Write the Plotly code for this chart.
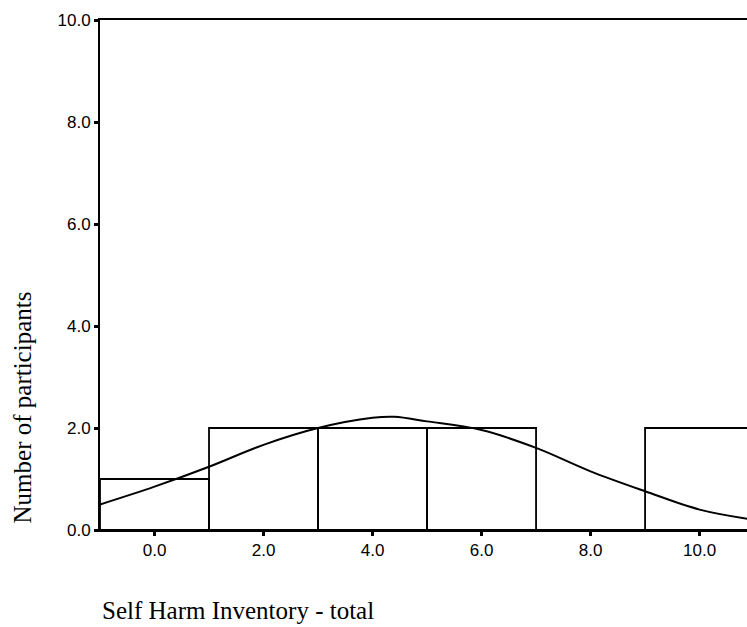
import plotly.graph_objects as go

# Histogram data (bin centers, counts)
bin_centers = [0, 2, 4, 6, 8, 10]
counts = [1, 2, 2, 2, 0, 2]

# Normal curve
curve_x = [-1, 0, 1, 2, 3, 4, 4.4, 5, 6, 7, 8, 9, 10, 11]
curve_y = [0.5, 0.85, 1.24, 1.67, 2.0, 2.2, 2.22, 2.13, 1.96, 1.61, 1.15, 0.76, 0.4, 0.2]

tick_vals_x = [0, 2, 4, 6, 8, 10]
tick_vals_y = [0, 2, 4, 6, 8, 10]

fig = go.Figure()
fig.add_trace(go.Bar(
    x=bin_centers, y=counts, width=2,
    marker=dict(color="rgba(0,0,0,0)", line=dict(color="black", width=1.8)),
    showlegend=False, hoverinfo="skip",
))
fig.add_trace(go.Scatter(
    x=curve_x, y=curve_y, mode="lines",
    line=dict(color="black", width=2, shape="spline"),
    showlegend=False, hoverinfo="skip",
))

fig.update_layout(
    width=747, height=627,
    margin=dict(l=100, r=0, t=20, b=97),
    plot_bgcolor="white", paper_bgcolor="white",
    font=dict(family="Liberation Sans, Arial", size=17, color="black"),
    xaxis=dict(
        range=[-1, 10.87], tickvals=tick_vals_x, tickformat=".1f",
        showgrid=False, zeroline=False,
        showline=True, linecolor="black", linewidth=2, mirror=True,
        ticks="outside", ticklen=4, tickwidth=3, tickcolor="black",
    ),
    yaxis=dict(
        range=[0, 10], tickvals=tick_vals_y, tickformat=".1f",
        showgrid=False, zeroline=False,
        showline=True, linecolor="black", linewidth=2,
        ticks="outside", ticklen=4, tickwidth=3, tickcolor="black",
    ),
)
fig.add_annotation(text="Self Harm Inventory - total", xref="paper", yref="paper",
                   x=0, y=-0.157, xanchor="left", yanchor="middle", showarrow=False,
                   font=dict(family="Liberation Serif, Times New Roman", size=25, color="black"))
fig.add_annotation(text="Number of participants", xref="paper", yref="paper",
                   x=-0.12, y=0.241, xanchor="center", yanchor="middle", textangle=-90,
                   showarrow=False,
                   font=dict(family="Liberation Serif, Times New Roman", size=25, color="black"))

fig.write_html("out.html")
